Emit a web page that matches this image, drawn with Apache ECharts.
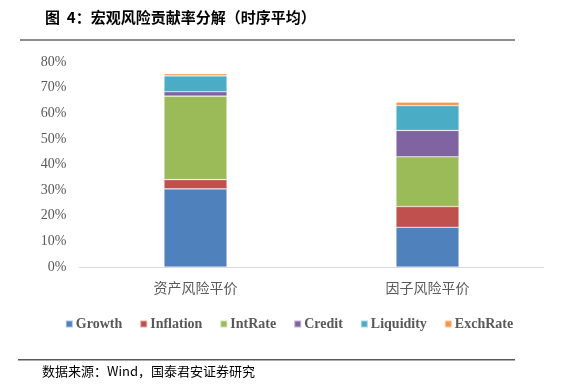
<!DOCTYPE html>
<html><head><meta charset="utf-8">
<script src="https://cdn.jsdelivr.net/npm/echarts@6/dist/echarts.min.js"></script>
<style>html,body{margin:0;padding:0;background:#fff}#c{width:578px;height:390px}</style>
</head><body><div id="c"></div>
<script>
const categories = ['资产风险平价', '因子风险平价'];
const seriesNames = ['Growth', 'Inflation', 'IntRate', 'Credit', 'Liquidity', 'ExchRate'];
const growth = [30.5, 15.5];
const inflation = [3.6, 8.1];
const intRate = [32.6, 19.4];
const credit = [1.7, 10.3];
const liquidity = [6.2, 9.7];
const exchRate = [0.8, 1.3];
const yTicks = [0, 10, 20, 30, 40, 50, 60, 70, 80];
const colors = ['#4F81BD', '#C0504D', '#9BBB59', '#8064A2', '#4BACC6', '#F79646'];
const values = [growth, inflation, intRate, credit, liquidity, exchRate];

const chart = echarts.init(document.getElementById('c'));
chart.setOption({
  animation: false,
  color: colors,
  grid: { left: 79.5, right: 34.5, top: 62, bottom: 123, containLabel: false },
  legend: {
    data: seriesNames, bottom: 54, left: 'center', itemWidth: 7, itemHeight: 7, itemGap: 17,
    icon: 'rect',
    textStyle: { fontFamily: 'Liberation Serif', fontWeight: 'bold', fontSize: 14, color: '#595959', padding: [0, 0, 0, -2] }
  },
  xAxis: {
    type: 'category', data: categories,
    axisLine: { lineStyle: { color: '#D9D9D9', width: 1 } },
    axisTick: { show: false },
    axisLabel: { fontFamily: 'Noto Sans CJK SC', fontSize: 14, color: '#595959', margin: 14 }
  },
  yAxis: {
    type: 'value', min: 0, max: 80, interval: 10,
    axisLine: { show: false }, axisTick: { show: false }, splitLine: { show: false },
    axisLabel: { formatter: v => yTicks.includes(v) ? v + '%' : '', fontFamily: 'Liberation Serif', fontSize: 14, color: '#595959', margin: 13 }
  },
  series: seriesNames.map((n, i) => ({
    name: n, type: 'bar', stack: 'total', data: values[i], barWidth: 63,
    itemStyle: { color: colors[i], borderColor: 'rgba(255,255,255,0.5)', borderWidth: 0.6 }
  })),
  graphic: [
    { type: 'text', left: 45, top: 10, style: { text: '图  4：宏观风险贡献率分解（时序平均）', font: 'bold 15px "Noto Sans CJK SC"', fill: '#000' } },
    { type: 'rect', shape: { x: 20, y: 39, width: 495, height: 2 }, style: { fill: '#8C8C8C' } },
    { type: 'rect', shape: { x: 18, y: 359, width: 497, height: 1.5 }, style: { fill: '#595959' } },
    { type: 'text', left: 42, top: 365, style: { text: '数据来源：Wind，国泰君安证券研究', font: '13px "Noto Sans CJK SC"', fill: '#000' } }
  ]
});
</script></body></html>
